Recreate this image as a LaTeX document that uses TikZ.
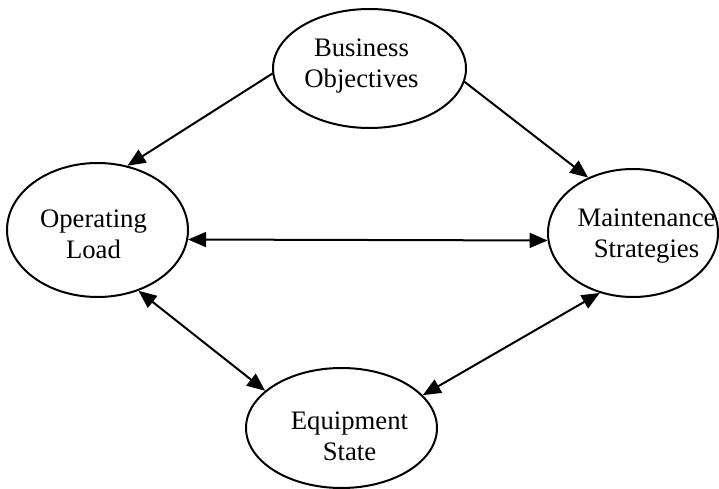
\documentclass[tikz,border=0pt]{standalone}
\usepackage{fontspec}
\setmainfont{Liberation Serif}
\usetikzlibrary{shapes.geometric,arrows.meta}
\begin{document}
\begin{tikzpicture}[x=1pt,y=-1pt,
  ell/.style={draw, ellipse, line width=2pt, inner sep=0pt},
  lbl/.style={anchor=base, align=center, inner sep=0pt, font=\fontsize{26.7}{31}\selectfont},
  conn/.style={line width=2pt, -{Triangle[length=18pt,width=15pt]}},
  bconn/.style={line width=2pt, {Triangle[length=18pt,width=15pt]}-{Triangle[length=18pt,width=15pt]}}]
\useasboundingbox (0,0) rectangle (719,489);
\node[ell, minimum width=193pt, minimum height=119pt] (bo) at (369.5,68.5) {};
\node[ell, minimum width=181pt, minimum height=134pt] (ol) at (97.5,230) {};
\node[ell, minimum width=170pt, minimum height=128pt] (ms) at (633,233) {};
\node[ell, minimum width=191pt, minimum height=120pt] (es) at (341.5,428) {};
\node[lbl] (bot) at (361.5,88) {Business\\Objectives};
\node[lbl] (olt) at (93.5,258) {Operating\\Load};
\node[lbl] (mst) at (646.5,257.5) {Maintenance\\Strategies};
\node[lbl] (est) at (349.5,460) {Equipment\\State};
\draw[conn] (bo.183.7) -- (ol.65.4);
\draw[conn] (bo.-8.4) -- (ms.129.3);
\draw[bconn] (ol.-6.9) -- (ms.185.4);
\draw[bconn] (ol.-56.4) -- (es.154.4);
\draw[bconn] (ms.241) -- (es.22.1);
\end{tikzpicture}
\end{document}
